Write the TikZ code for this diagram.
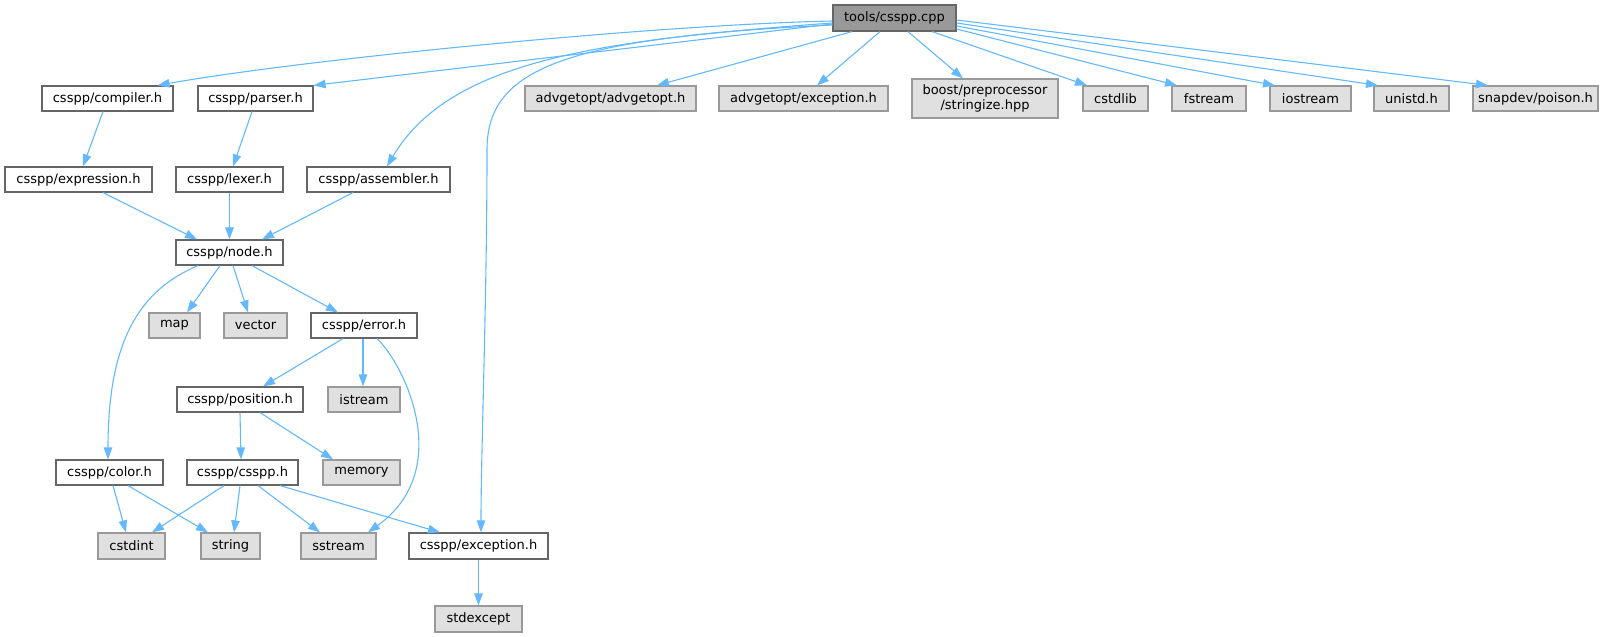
\documentclass[tikz,border=0pt]{standalone}
\usepackage{fontspec}
\setmainfont{DejaVu Sans}
\usetikzlibrary{arrows.meta, calc, positioning}
\definecolor{edgeBlue}{HTML}{63B8FF}
\definecolor{boxLine}{HTML}{666666}
\definecolor{sysLine}{HTML}{999999}
\definecolor{sysFill}{HTML}{E0E0E0}
\definecolor{rootFill}{HTML}{999999}
\tikzset{
    fileBox/.style={rectangle, draw=boxLine, fill=white, line width=1.2pt, inner sep=0pt, minimum height=25pt, font=\fontsize{13}{14.5}\selectfont},
    sysBox/.style={fileBox, draw=sysLine, fill=sysFill},
    rootBox/.style={fileBox, draw=boxLine, fill=rootFill, minimum height=26pt},
    incEdge/.style={->, >={Triangle[length=12pt, width=8.5pt]}, draw=edgeBlue, line width=1.1pt},
}
\newcommand{\drawInc}[2]{
    \draw[incEdge] (#1) -- (#2);
}
\begin{document}
\begin{tikzpicture}[x=1pt, y=-1pt]
    \useasboundingbox (0,0) rectangle (1615,637);

    % top
    \node[rootBox, minimum width=123pt] (root) at (894.5,18) {tools/csspp.cpp};

    % first row
    \node[fileBox, minimum width=131pt] (compiler) at (107.5,98.5) {csspp/compiler.h};
    \node[fileBox, minimum width=115pt] (parser) at (255.5,98.5) {csspp/parser.h};
    \node[sysBox, minimum width=171pt] (advgetopt) at (610.5,98.5) {advgetopt/advgetopt.h};
    \node[sysBox, minimum width=169pt] (advexc) at (803.5,98.5) {advgetopt/exception.h};
    \node[sysBox, minimum width=146pt, minimum height=39pt, align=center] (boost) at (985,98.5) {boost/preprocessor\\/stringize.hpp};
    \node[sysBox, minimum width=65pt] (cstdlib) at (1115.5,98.5) {cstdlib};
    \node[sysBox, minimum width=74pt] (fstream) at (1209,98.5) {fstream};
    \node[sysBox, minimum width=81pt] (iostream) at (1310.5,98.5) {iostream};
    \node[sysBox, minimum width=75pt] (unistd) at (1411.5,98.5) {unistd.h};
    \node[sysBox, minimum width=125pt] (snapdev) at (1535.5,98.5) {snapdev/poison.h};

    \node[fileBox, minimum width=147pt] (expression) at (78.5,179.5) {csspp/expression.h};
    \node[fileBox, minimum width=107pt] (lexer) at (229.5,179.5) {csspp/lexer.h};
    \node[fileBox, minimum width=143pt] (assembler) at (378.5,179.5) {csspp/assembler.h};

    \node[fileBox, minimum width=107pt] (node) at (229.5,252.5) {csspp/node.h};

    \node[sysBox, minimum width=51pt] (map) at (174.5,325.5) {map};
    \node[sysBox, minimum width=63pt] (vector) at (255.5,325.5) {vector};
    \node[fileBox, minimum width=106pt] (error) at (364,325.5) {csspp/error.h};

    \node[fileBox, minimum width=126pt] (position) at (240,399.5) {csspp/position.h};
    \node[sysBox, minimum width=72pt] (istream) at (364,399.5) {istream};

    \node[fileBox, minimum width=107pt] (color) at (109.5,472.5) {csspp/color.h};
    \node[fileBox, minimum width=111pt] (csspph) at (242.5,472.5) {csspp/csspp.h};
    \node[sysBox, minimum width=77pt] (memory) at (361.5,472.5) {memory};

    \node[sysBox, minimum width=67pt, minimum height=26pt] (cstdint) at (131.5,546) {cstdint};
    \node[sysBox, minimum width=59pt, minimum height=26pt] (string) at (230.5,546) {string};
    \node[sysBox, minimum width=75pt, minimum height=26pt] (sstream) at (338.5,546) {sstream};
    \node[fileBox, minimum width=139pt, minimum height=26pt] (exception) at (478.5,546) {csspp/exception.h};

    \node[sysBox, minimum width=87pt, minimum height=26pt] (stdexcept) at (478.5,619) {stdexcept};

    % includes of tools/csspp.cpp
    \draw[incEdge] ([yshift=-3pt]root.west) .. controls (650,25) and (300,60) .. ([xshift=50pt]compiler.north);
    \drawInc{[yshift=-6pt]root.west}{parser.north east}
    \draw[incEdge] ([yshift=-5pt]root.west) .. controls (600,40) and (450,60) .. ([xshift=8.5pt]assembler.north);
    \draw[incEdge] ([yshift=-7pt]root.west) .. controls (560,38) and (487,70) .. (487,150)
        .. controls (487,300) and (481,450) .. ([xshift=2.5pt]exception.north);
    \drawInc{[xshift=-42.5pt]root.south}{[xshift=46.5pt]advgetopt.north}
    \drawInc{[xshift=-14.5pt]root.south}{[xshift=13.5pt]advexc.north}
    \drawInc{[xshift=13.5pt]root.south}{[xshift=-22pt]boost.north}
    \drawInc{[xshift=37.5pt]root.south}{[xshift=-28.5pt]cstdlib.north}
    \drawInc{[yshift=-11pt]root.east}{[xshift=-32pt]fstream.north}
    \drawInc{[yshift=-8pt]root.east}{[xshift=-35.5pt]iostream.north}
    \drawInc{[yshift=-5pt]root.east}{[xshift=-33.5pt]unistd.north}
    \drawInc{[yshift=-2pt]root.east}{[xshift=-47.5pt]snapdev.north}

    % csspp headers
    \drawInc{[xshift=-4.5pt]compiler.south}{[xshift=4.5pt]expression.north}
    \drawInc{[xshift=-3.5pt]parser.south}{[xshift=3.5pt]lexer.north}
    \drawInc{[xshift=24.5pt]expression.south}{[xshift=-32.5pt]node.north}
    \drawInc{lexer.south}{node.north}
    \drawInc{[xshift=-25.5pt]assembler.south}{[xshift=32.5pt]node.north}
    \draw[incEdge] ([xshift=-31.5pt]node.south) .. controls (140,290) and (108,340) .. ([xshift=-1.5pt]color.north);
    \drawInc{[xshift=-9.5pt]node.south}{[xshift=12.5pt]map.north}
    \drawInc{[xshift=3.5pt]node.south}{[xshift=-7.5pt]vector.north}
    \drawInc{[xshift=22.5pt]node.south}{[xshift=-26pt]error.north}
    \drawInc{[xshift=-21pt]error.south}{[xshift=23pt]position.north}
    \drawInc{[xshift=-1pt]error.south}{[xshift=-1pt]istream.north}
    \draw[incEdge] ([xshift=13pt]error.south) .. controls (405,365) and (455,470) .. ([xshift=29.5pt]sstream.north);
    \drawInc{position.south}{[xshift=-1.5pt]csspph.north}
    \drawInc{[xshift=20pt]position.south}{[xshift=-28.5pt]memory.north}
    \drawInc{[xshift=3.5pt]color.south}{[xshift=-5.5pt]cstdint.north}
    \drawInc{[xshift=18.5pt]color.south}{[xshift=-22.5pt]string.north}
    \drawInc{[xshift=-18.5pt]csspph.south}{[xshift=20.5pt]cstdint.north}
    \drawInc{[xshift=-2.5pt]csspph.south}{[xshift=3.5pt]string.north}
    \drawInc{[xshift=15.5pt]csspph.south}{[xshift=-18.5pt]sstream.north}
    \drawInc{[xshift=37.5pt]csspph.south}{[xshift=-38.5pt]exception.north}
    \drawInc{exception.south}{stdexcept.north}

\end{tikzpicture}
\end{document}
